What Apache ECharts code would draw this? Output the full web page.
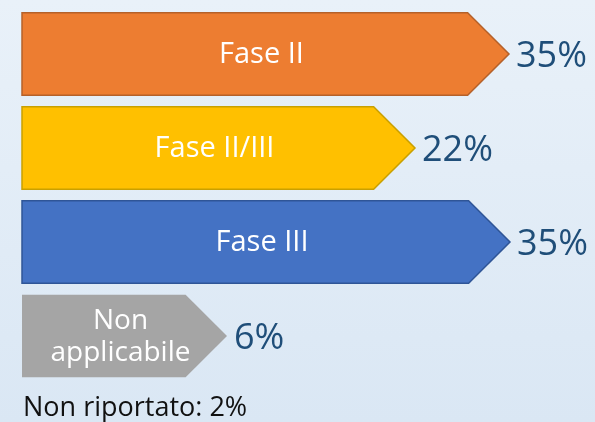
<!DOCTYPE html>
<html>
<head>
<meta charset="utf-8">
<script src="https://cdn.jsdelivr.net/npm/echarts@6/dist/echarts.min.js"></script>
<style>
  html, body { margin: 0; padding: 0; }
  #chart { width: 595px; height: 422px; }
</style>
</head>
<body>
<div id="chart"></div>
<script>
// categorie e valori (percentuali)
var categories = ["Fase II", "Fase II/III", "Fase III", "Non\napplicabile"];
var values = [35, 22, 35, 6];
// lunghezza disegnata delle frecce (asse 0-100)
var arrowLen = [97.4, 78.6, 97.6, 41];
var note = "Non riportato: 2%";

var fills = ["#ED7D31", "#FFC000", "#4472C4", "#A5A5A5"];
var borders = ["#B5612A", "#C9A000", "#2F5597", "#A5A5A5"];

var myChart = echarts.init(document.getElementById("chart"));

function renderArrow(params, api) {
  var i = params.dataIndex;
  var start = api.coord([0, i]);
  var end = api.coord([api.value(1), i]);
  var h = api.size([0, 1])[1] * 0.88;
  var yc = start[1];
  var x0 = start[0];
  var tip = end[0];
  var d = h / 2;
  var pts = [
    [x0, yc - h / 2],
    [tip - d, yc - h / 2],
    [tip, yc],
    [tip - d, yc + h / 2],
    [x0, yc + h / 2]
  ];
  var cx = (x0 + tip) / 2 - 4;
  var isLast = i === 3;
  return {
    type: "group",
    children: [
      {
        type: "polygon",
        shape: { points: pts },
        style: { fill: fills[i], stroke: borders[i], lineWidth: isLast ? 0 : 1.5 }
      },
      {
        type: "text",
        style: {
          text: categories[i],
          x: cx,
          y: yc + 1,
          align: "center",
          verticalAlign: "middle",
          fill: "#ffffff",
          font: (isLast ? 28 : 29) + "px 'Open Sans'",
          lineHeight: 32
        }
      },
      {
        type: "text",
        style: {
          text: api.value(2) + "%",
          x: tip + 7,
          y: yc + 3,
          align: "left",
          verticalAlign: "middle",
          fill: "#1F4E79",
          font: "36px 'Open Sans'"
        }
      }
    ]
  };
}

var seriesData = categories.map(function (c, i) {
  return [i, arrowLen[i], values[i]];
});

var option = {
  backgroundColor: {
    type: "linear", x: 0, y: 0, x2: 0, y2: 1,
    colorStops: [
      { offset: 0, color: "#E9F1F9" },
      { offset: 1, color: "#DAE7F4" }
    ]
  },
  animation: false,
  grid: { left: 22, top: 7, width: 500, height: 376 },
  xAxis: { type: "value", min: 0, max: 100, show: false },
  yAxis: { type: "category", data: categories, inverse: true, show: false },
  series: [
    {
      type: "custom",
      renderItem: renderArrow,
      encode: { y: 0, x: 1 },
      data: seriesData
    }
  ],
  graphic: [
    {
      type: "text",
      x: 23,
      y: 408,
      style: { text: note, fill: "#111111", font: "27px 'Open Sans'", verticalAlign: "middle" }
    }
  ]
};

myChart.setOption(option);
</script>
</body>
</html>
